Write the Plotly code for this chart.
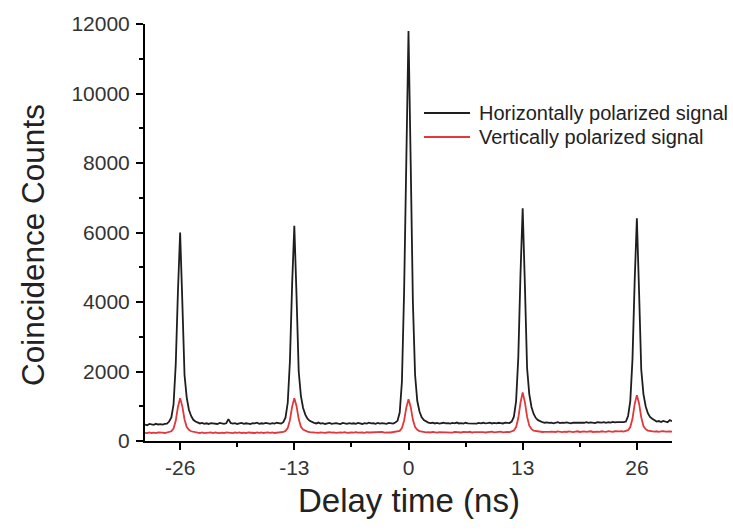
import numpy as np
import plotly.graph_objects as go

# Delay axis: histogram bins every 0.25 ns from -30 ns to +30 ns
delay_ns = np.arange(-30.0, 30.0 + 1e-9, 0.25)

# Coincidence counts, horizontally polarized signal (one row = 2 ns)
counts_h = [
    470, 455, 490, 480, 465, 495, 475, 485,
    470, 490, 500, 560, 680, 1050, 2200, 4300,
    6000, 4000, 1900, 1250, 900, 720, 610, 560,
    530, 505, 520, 495, 510, 490, 515, 500,
    505, 490, 520, 500, 495, 510, 630, 520,
    500, 515, 490, 505, 520, 495, 510, 500,
    490, 515, 505, 525, 495, 510, 500, 520,
    505, 495, 515, 500, 525, 510, 500, 540,
    680, 1100, 2300, 4500, 6190, 4200, 2000, 1300,
    950, 760, 640, 580, 545, 520, 505, 530,
    500, 515, 490, 510, 520, 495, 505, 515,
    500, 490, 520, 505, 495, 515, 500, 510,
    495, 520, 505, 490, 515, 500, 525, 505,
    510, 495, 520, 500, 515, 505, 495, 520,
    510, 500, 530, 580, 820, 1700, 4300, 8400,
    11800, 8000, 4000, 1900, 1150, 850, 680, 600,
    560, 530, 515, 525, 505, 520, 500, 515,
    525, 505, 515, 500, 520, 510, 530, 505,
    515, 500, 525, 510, 505, 520, 515, 500,
    520, 510, 525, 505, 515, 530, 505, 520,
    510, 525, 515, 505, 530, 520, 515, 560,
    700, 1150, 2400, 4800, 6700, 4500, 2100, 1350,
    980, 780, 660, 600, 560, 540, 525, 535,
    520, 530, 510, 525, 540, 515, 530, 520,
    535, 520, 510, 530, 525, 540, 515, 530,
    525, 540, 520, 535, 530, 515, 540, 525,
    530, 545, 525, 540, 530, 550, 535, 545,
    540, 555, 545, 560, 720, 1150, 2350, 4600,
    6410, 4300, 2050, 1350, 1000, 800, 690, 640,
    600, 560, 575, 545, 580, 555, 540, 600,
    570,
]

# Coincidence counts, vertically polarized signal (one row = 2 ns)
counts_v = [
    235, 225, 245, 230, 240, 225, 250, 235,
    240, 230, 250, 255, 280, 360, 580, 980,
    1230, 1000, 620, 400, 320, 280, 260, 250,
    240, 230, 245, 225, 240, 235, 250, 230,
    245, 235, 225, 240, 230, 250, 240, 235,
    225, 245, 235, 250, 230, 240, 225, 245,
    235, 240, 230, 250, 235, 245, 230, 240,
    250, 235, 245, 230, 240, 250, 245, 260,
    290, 370, 600, 990, 1230, 1010, 630, 410,
    330, 290, 270, 255, 250, 240, 245, 235,
    250, 240, 235, 245, 255, 240, 250, 235,
    245, 250, 240, 255, 235, 250, 245, 240,
    255, 240, 250, 245, 235, 255, 245, 250,
    240, 255, 245, 250, 260, 240, 255, 250,
    245, 255, 250, 260, 290, 370, 590, 960,
    1200, 980, 610, 400, 320, 285, 270, 260,
    250, 255, 245, 260, 250, 240, 255, 250,
    260, 245, 255, 250, 240, 260, 250, 255,
    245, 260, 250, 255, 265, 245, 255, 260,
    250, 265, 255, 245, 260, 255, 270, 250,
    260, 255, 270, 250, 265, 260, 255, 275,
    300, 400, 660, 1100, 1400, 1120, 700, 440,
    350, 300, 285, 275, 270, 260, 265, 255,
    265, 270, 255, 260, 275, 265, 255, 270,
    260, 275, 265, 255, 270, 280, 260, 270,
    275, 265, 270, 280, 260, 275, 270, 265,
    280, 270, 265, 285, 275, 265, 280, 270,
    275, 285, 270, 290, 310, 400, 640, 1060,
    1320, 1080, 680, 430, 340, 300, 285, 275,
    270, 280, 265, 275, 285, 270, 280, 275,
    270,
]

series_names = ["Horizontally polarized signal", "Vertically polarized signal"]
series_colors = ["#1e1e1e", "#e0383c"]

x_ticks = [-26, -13, 0, 13, 26]
y_ticks = [0, 2000, 4000, 6000, 8000, 10000, 12000]

FONT = "Liberation Sans, Arial, sans-serif"

fig = go.Figure()
for name, color, counts in zip(series_names, series_colors, [counts_h, counts_v]):
    fig.add_trace(go.Scatter(
        x=delay_ns, y=counts, mode="lines", name=name,
        line=dict(color=color, width=1.8), showlegend=False,
    ))

# Compact legend drawn in paper coordinates (sample line + label per series)
legend_x0, legend_x1, legend_text_x = 0.5294, 0.6167, 0.630
legend_rows_y = [0.7866, 0.729]
for name, color, ly in zip(series_names, series_colors, legend_rows_y):
    fig.add_shape(type="line", xref="paper", yref="paper",
                  x0=legend_x0, x1=legend_x1, y0=ly, y1=ly,
                  line=dict(color=color, width=2.2))
    fig.add_annotation(xref="paper", yref="paper", x=legend_text_x, y=ly,
                       text=name, showarrow=False, xanchor="left",
                       yanchor="middle",
                       font=dict(family=FONT, size=20, color="#222222"))

# Axis titles
fig.add_annotation(xref="paper", yref="paper", x=-0.2125, y=0.47,
                   text="Coincidence Counts", textangle=-90, showarrow=False,
                   xanchor="center", yanchor="middle",
                   font=dict(family=FONT, size=31.5, color="#222222"))
fig.add_annotation(xref="paper", yref="paper", x=0.5, y=-0.1415,
                   text="Delay time (ns)", showarrow=False,
                   xanchor="center", yanchor="middle",
                   font=dict(family=FONT, size=33, color="#222222"))

axis_common = dict(
    showgrid=False, zeroline=False,
    showline=True, linecolor="black", linewidth=2,
    ticks="outside", ticklen=7, tickwidth=2, tickcolor="black",
    tickfont=dict(family=FONT, size=21, color="#333333"),
)

fig.update_xaxes(
    range=[-30, 30], tickvals=x_ticks,
    ticktext=[str(v) for v in x_ticks],
    minor=dict(ticks="outside", ticklen=4, tickwidth=2, tickcolor="black",
               tick0=-32.5, dtick=13),
    **axis_common,
)
fig.update_yaxes(
    range=[0, 12000], tickvals=y_ticks,
    ticktext=[str(v) for v in y_ticks],
    ticklabelstandoff=2,
    minor=dict(ticks="outside", ticklen=4, tickwidth=2, tickcolor="black",
               tick0=1000, dtick=2000),
    **axis_common,
)

fig.update_layout(
    width=733, height=532,
    margin=dict(l=145, r=61, t=24, b=91),
    paper_bgcolor="white", plot_bgcolor="white",
    showlegend=False,
)

fig.write_html("out.html")
